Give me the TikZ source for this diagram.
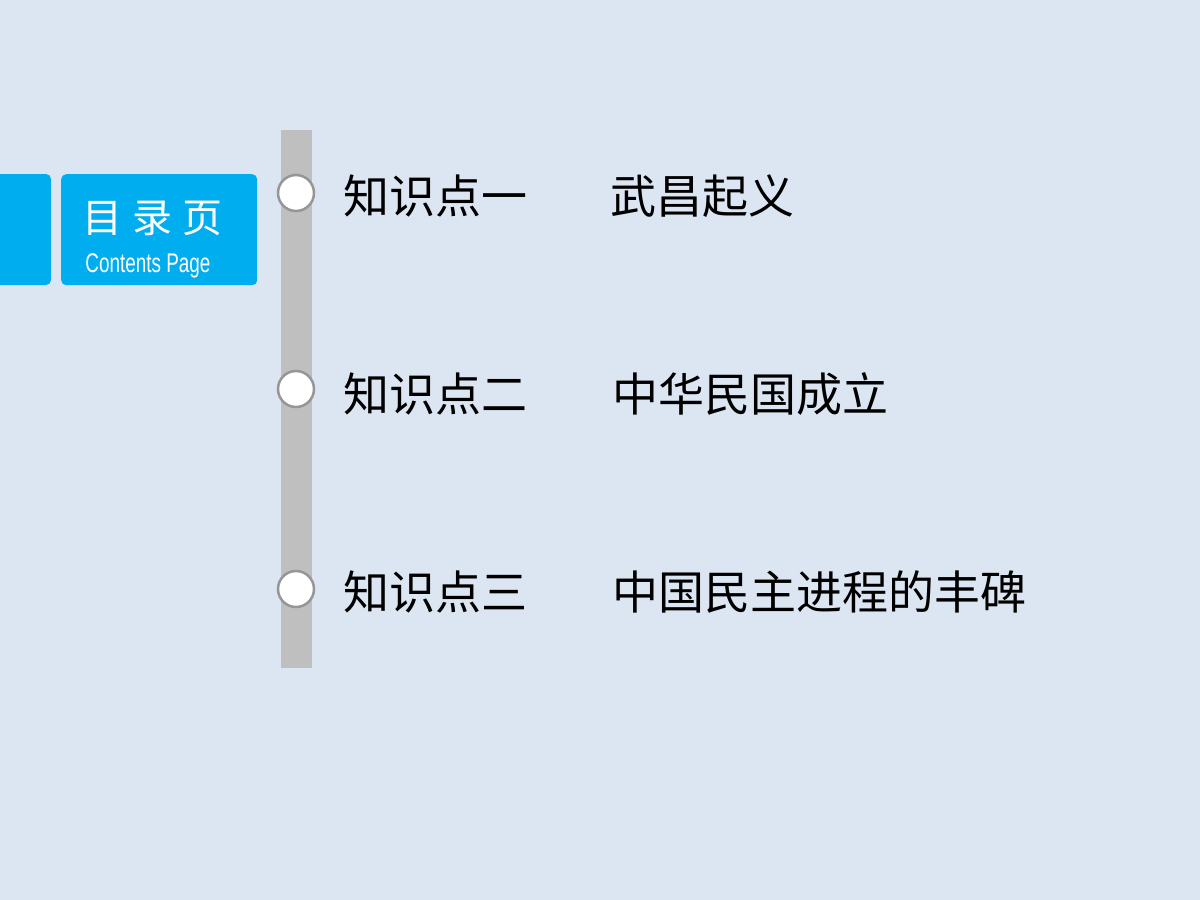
\documentclass[tikz,border=0pt]{standalone}
\usepackage{fontspec}
\newfontfamily\cjk{Noto Sans CJK SC}
\newfontfamily\cond[FakeStretch=0.7]{Liberation Sans}
\definecolor{bg}{RGB}{220,230,242}
\definecolor{bl}{RGB}{0,174,239}
\definecolor{bar}{RGB}{191,191,191}
\definecolor{ring}{RGB}{150,150,150}
\begin{document}
\begin{tikzpicture}[x=1pt,y=-1pt,
  blu/.style={fill=bl,draw=none,rounded corners=5pt},
  dot/.style={circle,minimum size=36pt,inner sep=0,fill=white,draw=ring,line width=2.5pt},
  item/.style={anchor=west,font=\cjk\fontsize{46}{50}\selectfont,inner sep=0}]
\fill[bg] (0,0) rectangle (1200,900);
\useasboundingbox (0,0) rectangle (1200,900);
\fill[blu] (-10,174) rectangle (51,285);
\node[blu,minimum width=196pt,minimum height=111pt,anchor=north west] (box) at (61,174) {};
\node[white,font=\cjk\fontsize{40}{44}\selectfont] (t1) at (152,218) {目\hspace{0.25em}录\hspace{0.25em}页};
\node[white,font=\cond\fontsize{27}{30}\selectfont] (t2) at (148,266) {Contents Page};
\fill[bar] (281,130) rectangle (312,668);
\node[dot] (c1) at (296,193) {};
\node[dot] (c2) at (296,389) {};
\node[dot] (c3) at (296,589) {};
\node[item] (a1) at (343,196) {知识点一};
\node[item] (b1) at (610,196) {武昌起义};
\node[item] (a2) at (343,394) {知识点二};
\node[item] (b2) at (612,394) {中华民国成立};
\node[item] (a3) at (343,592) {知识点三};
\node[item] (b3) at (612,592) {中国民主进程的丰碑};
\end{tikzpicture}
\end{document}
